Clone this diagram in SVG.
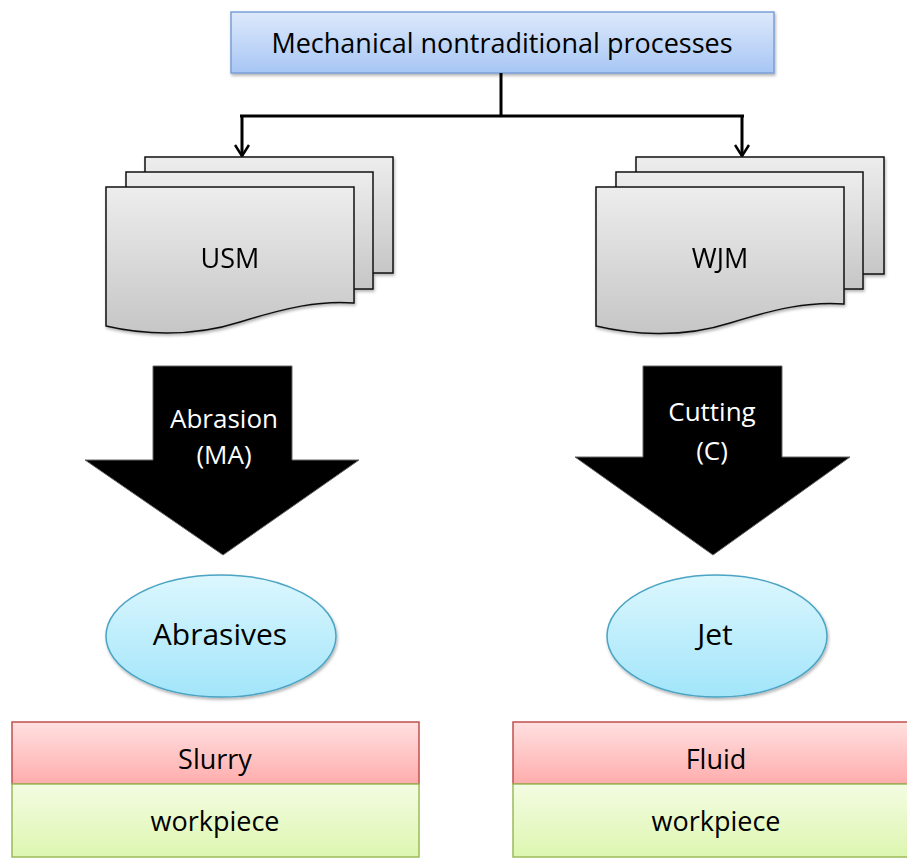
<svg xmlns="http://www.w3.org/2000/svg" width="907" height="859" viewBox="0 0 907 859">
<defs>
<linearGradient id="gBlue" x1="0" y1="0" x2="0" y2="1"><stop offset="0" stop-color="#dde9fb"/><stop offset="1" stop-color="#a7c6f4"/></linearGradient>
<linearGradient id="gGray" x1="0" y1="0" x2="0" y2="1"><stop offset="0" stop-color="#ededed"/><stop offset="1" stop-color="#c6c6c6"/></linearGradient>
<linearGradient id="gCyan" x1="0" y1="0" x2="0" y2="1"><stop offset="0" stop-color="#dcf7fe"/><stop offset="1" stop-color="#a2e5fa"/></linearGradient>
<linearGradient id="gRed" x1="0" y1="0" x2="0" y2="1"><stop offset="0" stop-color="#ffe0e0"/><stop offset="1" stop-color="#ffadad"/></linearGradient>
<linearGradient id="gGreen" x1="0" y1="0" x2="0" y2="1"><stop offset="0" stop-color="#f4fce2"/><stop offset="1" stop-color="#ddf6b0"/></linearGradient>
<filter id="sh" x="-10%" y="-10%" width="130%" height="130%"><feDropShadow dx="1" dy="2" stdDeviation="1.5" flood-color="#000" flood-opacity="0.3"/></filter>
<marker id="arr" markerWidth="16" markerHeight="16" refX="14" refY="8" orient="auto" markerUnits="userSpaceOnUse" viewBox="0 0 16 16">
<polyline points="3,1 14,8 3,15" fill="none" stroke="#000" stroke-width="2.5"/>
</marker>
</defs>
<style>
text{font-family:"Open Sans","Noto Sans","DejaVu Sans",sans-serif;text-anchor:middle;fill:#000}
.sheet{fill:url(#gGray);stroke:#111;stroke-width:1.5}
.big{fill:#000;stroke:#666;stroke-width:1}
.wt{fill:#fff;font-size:26px}
.conn{fill:none;stroke:#000;stroke-width:3}
</style>
<g id="top">
<rect x="231" y="12" width="543" height="61" fill="url(#gBlue)" stroke="#7a9fd6" stroke-width="1.5" filter="url(#sh)"/>
<text x="502" y="53" font-size="27">Mechanical nontraditional processes</text>
</g>
<g id="connectors">
<line class="conn" x1="501" y1="73" x2="501" y2="116"/>
<line class="conn" x1="240" y1="116" x2="744" y2="116"/>
<line class="conn" x1="242" y1="115" x2="242" y2="156" marker-end="url(#arr)"/>
<line class="conn" x1="742" y1="115" x2="742" y2="156" marker-end="url(#arr)"/>
</g>
<g id="usm" filter="url(#sh)">
<rect class="sheet" x="145" y="157" width="248" height="116"/>
<rect class="sheet" x="126" y="172" width="247" height="117"/>
<path class="sheet" d="M106,187 H354 V303 C320,300 285,308 240,322 C190,338 140,334 106,326 Z"/>
<text x="230" y="268" font-size="27">USM</text>
</g>
<g id="wjm" filter="url(#sh)">
<rect class="sheet" x="636" y="157" width="248" height="117"/>
<rect class="sheet" x="616" y="172" width="247" height="117"/>
<path class="sheet" d="M596,187 H844 V304 C810,301 775,309 730,323 C680,339 630,334 596,326 Z"/>
<text x="720" y="268" font-size="27">WJM</text>
</g>
<g id="abrasion">
<path class="big" d="M153,366 H292 V460 H359 L223,555 L85,460 H153 Z"/>
<text class="wt" x="224" y="428">Abrasion</text>
<text class="wt" x="224" y="464">(MA)</text>
</g>
<g id="cutting">
<path class="big" d="M643,366 H782 V457 H850 L713,555 L575,457 H643 Z"/>
<text class="wt" x="712" y="421">Cutting</text>
<text class="wt" x="712" y="460">(C)</text>
</g>
<g id="abrasives">
<ellipse cx="221" cy="636" rx="115" ry="61" fill="url(#gCyan)" stroke="#4ba4c4" stroke-width="1.5" filter="url(#sh)"/>
<text x="220" y="645" font-size="30">Abrasives</text>
</g>
<g id="jet">
<ellipse cx="717" cy="636" rx="110" ry="61" fill="url(#gCyan)" stroke="#4ba4c4" stroke-width="1.5" filter="url(#sh)"/>
<text x="715" y="645" font-size="30">Jet</text>
</g>
<g id="slurry">
<rect x="12" y="722" width="407" height="62" fill="url(#gRed)" stroke="#c0504d" stroke-width="1.5"/>
<text x="215" y="769" font-size="27">Slurry</text>
</g>
<g id="workpiece1">
<rect x="12" y="784" width="407" height="73" fill="url(#gGreen)" stroke="#9bbb59" stroke-width="1.5"/>
<text x="215" y="831" font-size="27">workpiece</text>
</g>
<g id="fluid">
<rect x="513" y="722" width="407" height="62" fill="url(#gRed)" stroke="#c0504d" stroke-width="1.5"/>
<text x="716" y="769" font-size="27">Fluid</text>
</g>
<g id="workpiece2">
<rect x="513" y="784" width="407" height="73" fill="url(#gGreen)" stroke="#9bbb59" stroke-width="1.5"/>
<text x="716" y="831" font-size="27">workpiece</text>
</g>
</svg>
